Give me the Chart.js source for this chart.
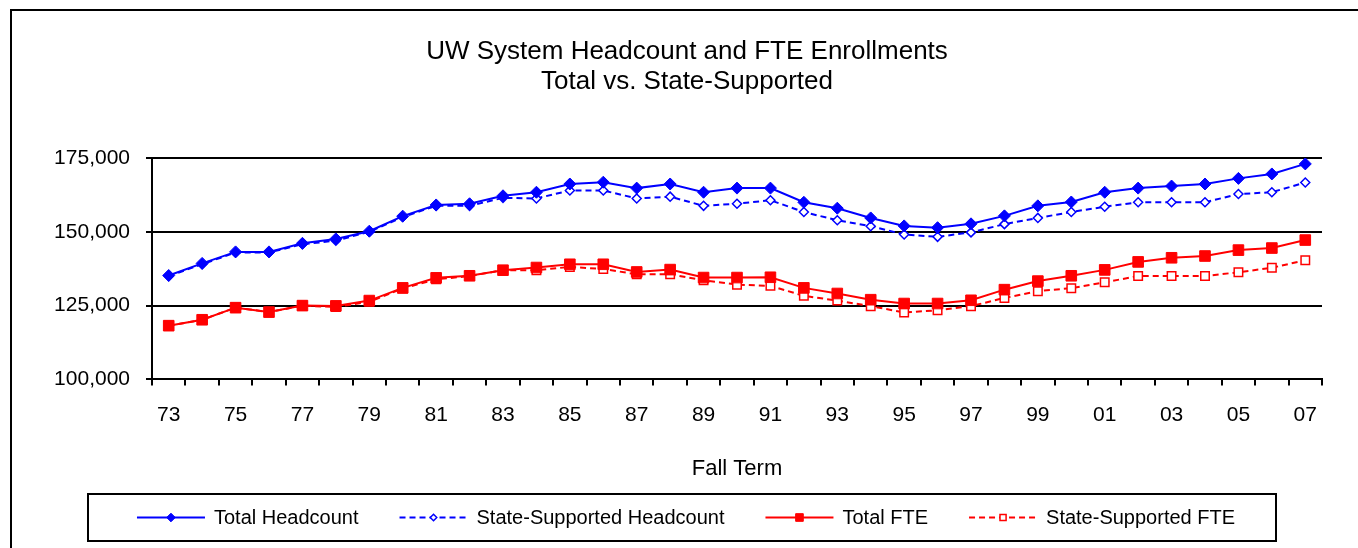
<!DOCTYPE html>
<html>
<head>
<meta charset="utf-8">
<title>UW System Headcount and FTE Enrollments</title>
<script src="https://cdn.jsdelivr.net/npm/chart.js@4.4.1/dist/chart.umd.min.js"></script>
<style>
  html, body { margin: 0; padding: 0; background: #fff; overflow: hidden; }
  #wrap { position: relative; width: 1358px; height: 548px; }
  #frame { position: absolute; left: 10px; top: 9px; width: 1400px; height: 600px;
           border-left: 2px solid #000; border-top: 2px solid #000; }
  canvas { position: absolute; left: 0; top: 0; }
</style>
</head>
<body>
<div id="wrap">
  <div id="frame"></div>
  <canvas id="enrollChart" width="1358" height="548"></canvas>
</div>
<script>
// Fall terms 1973 - 2007
const years = ['73','74','75','76','77','78','79','80','81','82','83','84','85','86','87','88','89',
               '90','91','92','93','94','95','96','97','98','99','00','01','02','03','04','05','06','07'];

const totalHeadcount = [135200, 139300, 143200, 143200, 146100, 147600, 150200, 155300, 159100,
  159500, 162200, 163400, 166200, 166800, 164800, 166200, 163400, 164800, 164800,
  160000, 158000, 154700, 152000, 151400, 152700, 155400, 158800,
  160100, 163400, 164800, 165500, 166200, 168100, 169600, 173000];

const stateHeadcount = [135000, 139000, 143000, 143000, 145800, 147000, 150000, 155000, 158800,
  158800, 161500, 161300, 164000, 164000, 161300, 161900, 158800, 159500, 160700,
  156700, 153900, 151900, 149100, 148300, 149800, 152600, 154700,
  156700, 158500, 160000, 160000, 160000, 162800, 163400, 166700];

const totalFTE = [118200, 120200, 124300, 122800, 125000, 124900, 126700, 131000, 134400,
  135100, 137000, 137900, 139000, 139000, 136400, 137200, 134500, 134500, 134600,
  131000, 129100, 127000, 125700, 125700, 126800, 130400, 133300,
  135100, 137100, 139800, 141200, 141800, 143800, 144500, 147200];

const stateFTE = [118200, 120200, 124300, 122800, 125000, 124500, 126300, 130800, 133900,
  135000, 137000, 137000, 138100, 137400, 135600, 135600, 133600, 132100, 131700,
  128300, 126700, 124800, 122700, 123400, 124800, 127600, 129900,
  130900, 132900, 135000, 135000, 135000, 136300, 137800, 140400];

const FONT = "'Liberation Sans', Arial, sans-serif";
Chart.defaults.font.family = FONT;
Chart.defaults.color = '#000';

// legend frame drawn under the axis title
const legendBox = { left: 88, top: 494, right: 1276, bottom: 541 };
const legendLook = { symbolWidth: 68, textGap: 9, itemGap: 41, markerScale: 0.72, shift: 4 };

const boxedLegend = {
  id: 'boxedLegend',
  afterDraw(chart) {
    const ctx = chart.ctx;
    const sets = chart.data.datasets;
    ctx.save();
    ctx.font = '20px ' + FONT;
    const widths = sets.map(ds => legendLook.symbolWidth + legendLook.textGap + ctx.measureText(ds.label).width);
    const total = widths.reduce((a, b) => a + b, 0) + legendLook.itemGap * (sets.length - 1);
    let x = (legendBox.left + legendBox.right) / 2 - total / 2 + legendLook.shift;
    const y = (legendBox.top + legendBox.bottom) / 2;

    ctx.lineWidth = 2; ctx.strokeStyle = '#000';
    ctx.strokeRect(legendBox.left, legendBox.top, legendBox.right - legendBox.left, legendBox.bottom - legendBox.top);

    sets.forEach((ds, i) => {
      ctx.strokeStyle = ds.borderColor; ctx.lineWidth = 2;
      ctx.setLineDash(ds.borderDash || []);
      ctx.beginPath(); ctx.moveTo(x, y); ctx.lineTo(x + legendLook.symbolWidth, y); ctx.stroke();
      ctx.setLineDash([]);
      ctx.fillStyle = ds.pointBackgroundColor; ctx.strokeStyle = ds.pointBorderColor; ctx.lineWidth = ds.pointBorderWidth;
      Chart.helpers.drawPoint(ctx, {
        pointStyle: ds.pointStyle, rotation: 0,
        radius: ds.pointRadius * legendLook.markerScale, borderWidth: ds.pointBorderWidth
      }, x + legendLook.symbolWidth / 2, y);
      ctx.fillStyle = '#000'; ctx.textBaseline = 'middle'; ctx.textAlign = 'left';
      ctx.fillText(ds.label, x + legendLook.symbolWidth + legendLook.textGap, y + 1);
      x += widths[i] + legendLook.itemGap;
    });
    ctx.restore();
  }
};

const ctx = document.getElementById('enrollChart').getContext('2d');
new Chart(ctx, {
  type: 'line',
  data: {
    labels: years,
    datasets: [
      { label: 'Total Headcount', data: totalHeadcount, borderColor: '#0000FF', borderWidth: 2,
        pointStyle: 'rectRot', pointRadius: 6, pointBackgroundColor: '#0000FF', pointBorderColor: '#0000FF', pointBorderWidth: 1 },
      { label: 'State-Supported Headcount', data: stateHeadcount, borderColor: '#0000FF', borderWidth: 2, borderDash: [6, 4],
        pointStyle: 'rectRot', pointRadius: 4.5, pointBackgroundColor: '#FFFFFF', pointBorderColor: '#0000FF', pointBorderWidth: 1.5 },
      { label: 'Total FTE', data: totalFTE, borderColor: '#FF0000', borderWidth: 2,
        pointStyle: 'rect', pointRadius: 7.5, pointBackgroundColor: '#FF0000', pointBorderColor: '#FF0000', pointBorderWidth: 1 },
      { label: 'State-Supported FTE', data: stateFTE, borderColor: '#FF0000', borderWidth: 2, borderDash: [6, 4],
        pointStyle: 'rect', pointRadius: 6, pointBackgroundColor: '#FFFFFF', pointBorderColor: '#FF0000', pointBorderWidth: 1.5 }
    ]
  },
  options: {
    responsive: false,
    animation: false,
    devicePixelRatio: 1,
    layout: { padding: { left: 52, right: 36, top: 0, bottom: 62 } },
    plugins: {
      legend: { display: false },
      tooltip: { enabled: false },
      title: {
        display: true,
        text: ['UW System Headcount and FTE Enrollments', 'Total vs. State-Supported'],
        color: '#000',
        font: { size: 26, weight: 'normal', lineHeight: 1.154 },
        padding: { top: 37, bottom: 61 }
      }
    },
    scales: {
      x: {
        offset: true,
        grid: { offset: true, drawOnChartArea: false, drawTicks: true, tickLength: 6, color: '#000', lineWidth: 2 },
        border: { display: true, color: '#000', width: 2 },
        ticks: {
          autoSkip: false, maxRotation: 0, padding: 17, color: '#000', font: { size: 21 },
          callback: (v, i) => i % 2 === 0 ? years[i] : ''
        },
        title: { display: true, text: 'Fall Term', color: '#000', font: { size: 22 }, padding: { top: 11, bottom: 4 } }
      },
      y: {
        min: 100000, max: 175000,
        grid: { color: '#000', lineWidth: 2, tickLength: 6 },
        border: { display: true, color: '#000', width: 2 },
        ticks: { stepSize: 25000, padding: 16, color: '#000', font: { size: 21 },
                 callback: v => v.toLocaleString('en-US') },
        afterFit: axis => { axis.width = 100; }
      }
    }
  },
  plugins: [boxedLegend]
});
</script>
</body>
</html>
